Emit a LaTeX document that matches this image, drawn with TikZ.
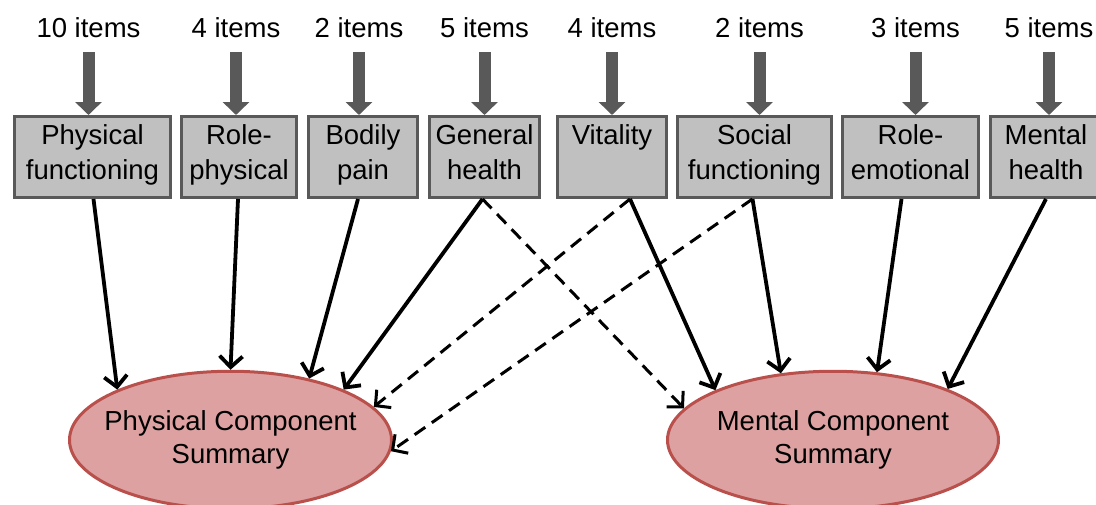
\documentclass[tikz,border=0pt]{standalone}
\usepackage{fontspec}
\setmainfont{Liberation Sans}
\usetikzlibrary{positioning,arrows.meta,shapes.geometric}
\definecolor{boxgray}{RGB}{192,192,192}
\definecolor{edgegray}{RGB}{89,89,89}
\definecolor{sumfill}{RGB}{221,161,161}
\definecolor{sumedge}{RGB}{185,80,75}

\begin{document}
\begin{tikzpicture}[
    x=1pt, y=1pt,
    node distance=8pt,
    scale box/.style={rectangle, draw=edgegray, fill=boxgray, line width=3pt, minimum height=81pt, inner sep=0pt, align=center, font=\fontsize{27.5pt}{35pt}\selectfont, execute at begin node=\strut, execute at end node=\strut},
    count/.style={inner sep=0pt, outer sep=0pt, font=\fontsize{27.5pt}{35pt}\selectfont},
    summary/.style={ellipse, draw=sumedge, fill=sumfill, line width=3pt, minimum height=137.5pt, inner xsep=-20pt, inner ysep=0pt, align=center, font=\fontsize{27.5pt}{33pt}\selectfont},
    feed/.style={-{Triangle[width=26pt,length=13pt]}, line width=12pt, edgegray, shorten <=14pt},
    link/.style={-{Straight Barb[length=11pt,width=23pt]}, line width=3.8pt, black},
    crosslink/.style={link, line width=3pt, dash pattern=on 13pt off 8pt}
]
    \useasboundingbox (0,0) rectangle (1096,-504);

    % scales
    \node[scale box, minimum width=156pt, anchor=north west] (pf) at (13,-115) {Physical\\functioning};
    \node[scale box, minimum width=115pt, right=8pt of pf] (rp) {Role-\\physical};
    \node[scale box, minimum width=109pt, right=9pt of rp] (bp) {Bodily\\pain};
    \node[scale box, minimum width=110pt, right=9pt of bp] (gh) {General\\health};
    \node[scale box, minimum width=109pt, right=15pt of gh] (vt) {Vitality\\};
    \node[scale box, minimum width=154pt, right=8pt of vt] (sf) {Social\\functioning};
    \node[scale box, minimum width=136pt, right=8pt of sf] (re) {Role-\\emotional};
    \node[scale box, minimum width=111pt, right=9pt of re] (mh) {Mental\\health};

    % item counts
    \node[count, above=77pt of pf, xshift=-4pt] (npf) {10 items};
    \node[count, above=77pt of rp, xshift=-3pt] (nrp) {4 items};
    \node[count, above=77pt of bp, xshift=-4pt] (nbp) {2 items};
    \node[count, above=77pt of gh] (ngh) {5 items};
    \node[count, above=77pt of vt] (nvt) {4 items};
    \node[count, above=77pt of sf, xshift=5pt] (nsf) {2 items};
    \node[count, above=77pt of re, xshift=5pt] (nre) {3 items};
    \node[count, above=77pt of mh, xshift=3pt] (nmh) {5 items};

    \foreach \n/\s in {npf/pf, nrp/rp, nbp/bp, ngh/gh, nvt/vt, nsf/sf, nre/re, nmh/mh}
        \draw[feed] (\n) -- (\n |- \s.north);

    % summaries
    \node[summary, minimum width=322pt] (pcs) at (230.5,-440) {Physical Component\\Summary};
    \node[summary, minimum width=331pt] (mcs) at (833,-440) {Mental Component\\Summary};

    \draw[link] ([xshift=1pt]pf.south) -- (pcs.156);
    \draw[link] ([xshift=-1pt]rp.south) -- (pcs.90);
    \draw[link] ([xshift=-5pt]bp.south) -- (pcs.38);
    \draw[link] ([xshift=-2pt]gh.south) -- (pcs.24);
    \draw[crosslink] ([xshift=-2pt]gh.south) -- (mcs.168);
    \draw[crosslink] ([xshift=18pt]vt.south) -- (pcs.13);
    \draw[link] ([xshift=18pt]vt.south) -- (mcs.157);
    \draw[crosslink] ([xshift=-2pt]sf.south) -- (pcs.356);
    \draw[link] ([xshift=-2pt]sf.south) -- (mcs.128);
    \draw[link] ([xshift=-9pt]re.south) -- (mcs.57);
    \draw[link] (mh.south) -- (mcs.24);
\end{tikzpicture}
\end{document}
